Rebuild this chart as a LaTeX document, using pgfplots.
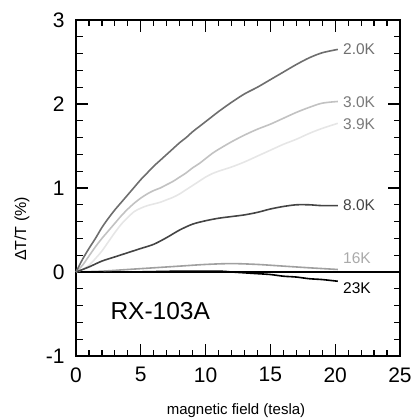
\documentclass[border=0pt]{standalone}
\usepackage{pgfplots}
\pgfplotsset{compat=1.18}
\usepackage{fontspec}
\setmainfont{Liberation Sans}
\definecolor{cA}{HTML}{6E6E6E}
\definecolor{cB}{HTML}{C2C2C2}
\definecolor{cC}{HTML}{E6E6E6}
\definecolor{cD}{HTML}{444444}
\definecolor{cE}{HTML}{A0A0A0}
\definecolor{lA}{HTML}{707070}
\definecolor{lB}{HTML}{7A7A7A}
\definecolor{lE}{HTML}{AAAAAA}
\begin{document}
\begin{tikzpicture}
\path[use as bounding box] (-76pt,-64pt) rectangle (337pt,356pt);
\begin{axis}[
  at={(0,0)}, anchor=south west,
  scale only axis, width=324pt, height=336pt,
  xmin=0, xmax=25, ymin=-1, ymax=3,
  xtick={0,5,...,25}, ytick={-1,0,1,2,3},
  minor x tick num=4, minor y tick num=4,
  tick align=inside, tick pos=both,
  major tick length=12pt, minor tick length=6.5pt,
  axis line style={line width=1.5pt},
  every tick/.style={black, line width=1.2pt},
  tick label style={font=\fontsize{21}{24}\selectfont},
  /pgf/number format/assume math mode=true,
  xticklabel style={yshift=-8pt},
  yticklabel style={xshift=-8pt},
  xlabel={magnetic field (tesla)},
  xlabel style={at={(rel axis cs:0.5,0)}, anchor=center, xshift=-2pt, yshift=-55pt, font=\fontsize{15}{18}\selectfont},
  ylabel={ΔT/T (\%)},
  ylabel style={at={(rel axis cs:-0.167,0.378)}, anchor=center, font=\fontsize{16}{19}\selectfont},
  clip=false,
]
\addplot[black, line width=1.5pt] coordinates {(0,0) (25,0)};
% 16K
\addplot[cE, line width=1.6pt, smooth] coordinates {
(0,0) (2,0.01) (4,0.03) (6,0.05) (8,0.07) (10,0.09) (12,0.10) (14,0.09) (16,0.07) (18,0.05) (20.2,0.03)};
% 23K
\addplot[black, line width=1.6pt, smooth] coordinates {
(0,0) (4,0.0) (8,0.01) (11,0.01) (12,0.0) (13,-0.01) (14,-0.02) (15,-0.03) (16,-0.05) (17,-0.06) (18,-0.08) (19,-0.09) (20.2,-0.11)};
% 3.9K
\addplot[cC, line width=1.6pt, smooth] coordinates {
(0,0) (0.5,0.03) (1,0.08) (1.5,0.16) (2,0.25) (2.5,0.36) (3,0.47) (3.5,0.57) (4,0.65) (4.5,0.72) (5,0.76) (5.5,0.79) (6,0.81) (6.5,0.83) (7,0.86) (7.5,0.89) (8,0.93) (8.5,0.98) (9,1.03) (9.5,1.08) (10,1.13) (10.5,1.17) (11,1.20) (12,1.25) (13,1.31) (14,1.38) (15,1.45) (16,1.52) (17,1.58) (18,1.65) (19,1.71) (20.2,1.77)};
% 3.0K
\addplot[cB, line width=1.6pt, smooth] coordinates {
(0,0) (0.5,0.08) (1,0.19) (1.5,0.30) (2,0.40) (2.5,0.49) (3,0.58) (3.5,0.67) (4,0.75) (4.5,0.82) (5,0.88) (5.5,0.93) (6,0.97) (6.5,1.00) (7,1.04) (7.5,1.08) (8,1.13) (8.5,1.18) (9,1.24) (9.5,1.29) (10,1.35) (10.5,1.41) (11,1.46) (12,1.55) (13,1.63) (14,1.70) (15,1.76) (16,1.83) (17,1.90) (18,1.96) (19,2.01) (20.2,2.03)};
% 8.0K
\addplot[cD, line width=1.6pt, smooth] coordinates {
(0,0) (1,0.06) (2,0.13) (3,0.18) (4,0.23) (5,0.28) (6,0.33) (7,0.41) (8,0.50) (9,0.57) (10,0.61) (11,0.64) (12,0.66) (13,0.68) (14,0.71) (15,0.75) (16,0.78) (17,0.80) (18,0.80) (19,0.79) (20.2,0.79)};
% 2.0K
\addplot[cA, line width=1.6pt, smooth] coordinates {
(0,0) (0.5,0.15) (1,0.28) (1.5,0.40) (2,0.53) (2.5,0.64) (3,0.74) (3.5,0.83) (4,0.92) (4.5,1.01) (5,1.10) (5.5,1.18) (6,1.26) (6.5,1.33) (7,1.40) (7.5,1.47) (8,1.54) (8.5,1.60) (9,1.67) (9.5,1.73) (10,1.79) (10.5,1.85) (11,1.91) (12,2.02) (13,2.12) (14,2.20) (15,2.29) (16,2.38) (17,2.47) (18,2.55) (19,2.61) (20.2,2.65)};
\begin{scope}[every node/.style={anchor=west, font=\fontsize{15.5}{18}\selectfont, inner sep=0pt}]
\node[text=lA] at (axis cs:20.6,2.65) {2.0K};
\node[text=lB] at (axis cs:20.6,2.02) {3.0K};
\node[text=lB] at (axis cs:20.6,1.76) {3.9K};
\node[text=cD] at (axis cs:20.6,0.79) {8.0K};
\node[text=lE] at (axis cs:20.6,0.16) {16K};
\node[text=black] at (axis cs:20.6,-0.19) {23K};
\end{scope}
\node[font=\fontsize{24.5}{28}\selectfont, inner sep=0pt] at (axis cs:6.5,-0.47) {RX-103A};
\end{axis}
\end{tikzpicture}
\end{document}
